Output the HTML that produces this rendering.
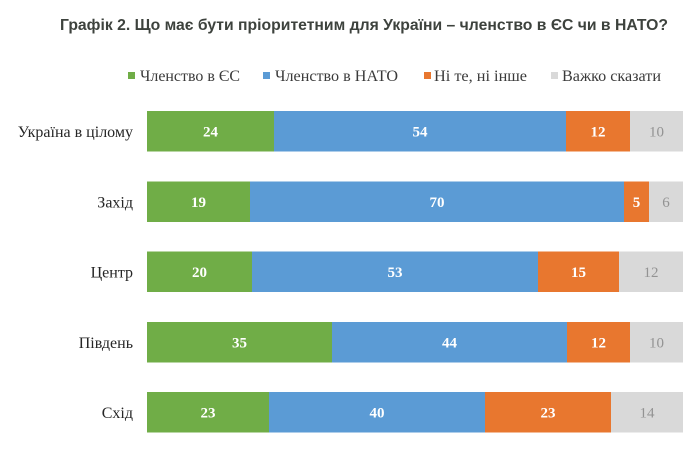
<!DOCTYPE html>
<html><head><meta charset="utf-8"><style>
html,body{margin:0;padding:0;background:#fff;}
svg{display:block;}
</style></head><body>
<svg width="690" height="450" viewBox="0 0 690 450" xmlns="http://www.w3.org/2000/svg">
<rect width="690" height="450" fill="#fff"/>
<text x="60" y="30" style="font-family:'Liberation Sans',Arial,sans-serif;font-weight:bold;font-size:16px" fill="#3d423d" textLength="608" lengthAdjust="spacingAndGlyphs">Графік 2. Що має бути пріоритетним для України – членство в ЄС чи в НАТО?</text>

<g style="font-family:'Liberation Serif','Times New Roman',Times,'DejaVu Serif',serif" font-family="Liberation Serif, Times New Roman, serif">
<!-- legend -->
<g font-size="16" fill="#3a3a3a" style="font-size:16px">
<rect x="128" y="72" width="7" height="7" fill="#70ad47"/>
<text x="140" y="81" textLength="100" lengthAdjust="spacingAndGlyphs">Членство в ЄС</text>
<rect x="263" y="72" width="7" height="7" fill="#5b9bd5"/>
<text x="275" y="81" textLength="123" lengthAdjust="spacingAndGlyphs">Членство в НАТО</text>
<rect x="424" y="72" width="7" height="7" fill="#e8772f"/>
<text x="434" y="81" textLength="93" lengthAdjust="spacingAndGlyphs">Ні те, ні інше</text>
<rect x="551" y="72" width="7" height="7" fill="#d9d9d9"/>
<text x="562" y="81" textLength="99" lengthAdjust="spacingAndGlyphs">Важко сказати</text>
</g>

<!-- bars -->
<rect x="147" y="111" width="127" height="40.5" fill="#70ad47"/>
<rect x="274" y="111" width="292" height="40.5" fill="#5b9bd5"/>
<rect x="566" y="111" width="64" height="40.5" fill="#e8772f"/>
<rect x="630" y="111" width="53" height="40.5" fill="#d9d9d9"/>

<rect x="147" y="181.5" width="103" height="40.5" fill="#70ad47"/>
<rect x="250" y="181.5" width="374" height="40.5" fill="#5b9bd5"/>
<rect x="624" y="181.5" width="25" height="40.5" fill="#e8772f"/>
<rect x="649" y="181.5" width="34" height="40.5" fill="#d9d9d9"/>

<rect x="147" y="251.5" width="105" height="40.5" fill="#70ad47"/>
<rect x="252" y="251.5" width="286" height="40.5" fill="#5b9bd5"/>
<rect x="538" y="251.5" width="81" height="40.5" fill="#e8772f"/>
<rect x="619" y="251.5" width="64" height="40.5" fill="#d9d9d9"/>

<rect x="147" y="322" width="185" height="40.5" fill="#70ad47"/>
<rect x="332" y="322" width="235" height="40.5" fill="#5b9bd5"/>
<rect x="567" y="322" width="63" height="40.5" fill="#e8772f"/>
<rect x="630" y="322" width="53" height="40.5" fill="#d9d9d9"/>

<rect x="147" y="392" width="122" height="40.5" fill="#70ad47"/>
<rect x="269" y="392" width="216" height="40.5" fill="#5b9bd5"/>
<rect x="485" y="392" width="126" height="40.5" fill="#e8772f"/>
<rect x="611" y="392" width="72" height="40.5" fill="#d9d9d9"/>

<!-- category labels -->
<g font-size="16" fill="#262626" text-anchor="end" style="font-size:16px">
<text x="133" y="137">Україна в цілому</text>
<text x="133" y="207.5">Захід</text>
<text x="133" y="277.5">Центр</text>
<text x="133" y="348">Південь</text>
<text x="133" y="418">Схід</text>
</g>

<!-- value labels -->
<g font-size="15" font-weight="bold" fill="#fff" text-anchor="middle" style="font-size:15px;font-weight:bold">
<text x="210.5" y="136.5">24</text>
<text x="420" y="136.5">54</text>
<text x="598" y="136.5">12</text>
<text x="198.5" y="207">19</text>
<text x="437" y="207">70</text>
<text x="636.5" y="207">5</text>
<text x="199.5" y="277">20</text>
<text x="395" y="277">53</text>
<text x="578.5" y="277">15</text>
<text x="239.5" y="347.5">35</text>
<text x="449.5" y="347.5">44</text>
<text x="598.5" y="347.5">12</text>
<text x="208" y="417.5">23</text>
<text x="377" y="417.5">40</text>
<text x="548" y="417.5">23</text>
</g>
<g font-size="15" fill="#939393" text-anchor="middle" style="font-size:15px">
<text x="656.5" y="136.5">10</text>
<text x="666" y="207">6</text>
<text x="651" y="277">12</text>
<text x="656.5" y="347.5">10</text>
<text x="647" y="417.5">14</text>
</g>
</g>
</svg>
</body></html>
